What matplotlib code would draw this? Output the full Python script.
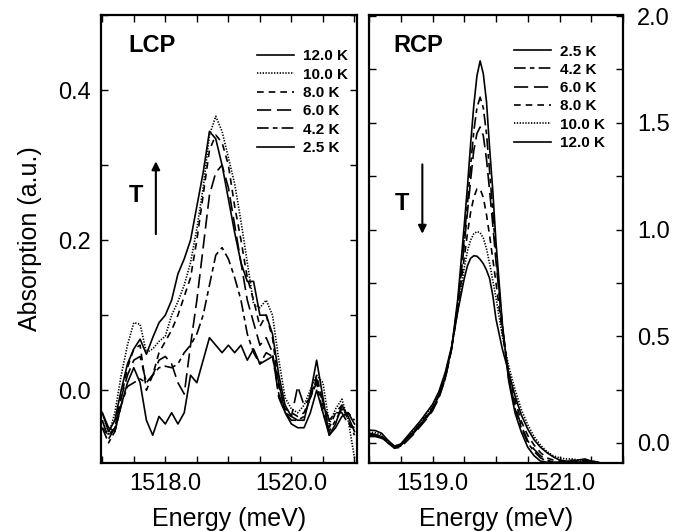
import matplotlib
matplotlib.use("Agg")
import matplotlib.pyplot as plt
from matplotlib.ticker import FixedLocator, MultipleLocator, FormatStrFormatter

plt.rcParams['font.family'] = ['Liberation Sans', 'DejaVu Sans']

# ---------------- data ----------------
temps_lcp = ["12.0 K", "10.0 K", "8.0 K", "6.0 K", "4.2 K", "2.5 K"]
temps_rcp = ["2.5 K", "4.2 K", "6.0 K", "8.0 K", "10.0 K", "12.0 K"]

E_lcp = [1517.0, 1517.1, 1517.2, 1517.3, 1517.4, 1517.5, 1517.6, 1517.7, 1517.8, 1517.9,
         1518.0, 1518.1, 1518.2, 1518.3, 1518.4, 1518.5, 1518.6, 1518.7, 1518.8, 1518.9,
         1519.0, 1519.1, 1519.2, 1519.3, 1519.4, 1519.5, 1519.6, 1519.7, 1519.8, 1519.9,
         1520.0, 1520.1, 1520.2, 1520.3, 1520.4, 1520.5, 1520.6, 1520.7, 1520.8, 1520.9,
         1521.0]

lcp_12K = [-0.03, -0.055, -0.04, 0.00, 0.035, 0.055, 0.068, 0.048, 0.07, 0.09,
           0.10, 0.12, 0.155, 0.175, 0.20, 0.245, 0.29, 0.345, 0.335, 0.30,
           0.255, 0.21, 0.17, 0.145, 0.145, 0.10, 0.10, 0.075, 0.02, -0.02,
           -0.035, -0.04, -0.04, -0.005, 0.04, -0.01, -0.06, -0.045, -0.02, -0.035,
           -0.055]
lcp_10K = [-0.04, -0.06, -0.03, 0.02, 0.06, 0.09, 0.088, 0.05, 0.055, 0.065,
           0.072, 0.10, 0.118, 0.14, 0.17, 0.215, 0.27, 0.34, 0.365, 0.345,
           0.31, 0.275, 0.225, 0.17, 0.115, 0.11, 0.12, 0.10, 0.04, -0.01,
           -0.025, -0.03, -0.02, 0.00, 0.02, 0.01, -0.045, -0.025, -0.012, -0.04,
           -0.09]
lcp_8K = [-0.05, -0.06, -0.05, -0.01, 0.03, 0.055, 0.06, 0.00, 0.02, 0.05,
          0.065, 0.08, 0.10, 0.125, 0.15, 0.20, 0.26, 0.32, 0.34, 0.33,
          0.30, 0.245, 0.20, 0.15, 0.12, 0.085, 0.10, 0.07, 0.005, -0.025,
          -0.03, -0.035, -0.03, -0.01, 0.02, -0.02, -0.05, -0.03, -0.02, -0.04,
          -0.06]
lcp_6K = [-0.04, -0.065, -0.05, -0.01, 0.02, 0.04, 0.045, 0.01, 0.02, 0.04,
          0.045, 0.035, 0.01, -0.005, 0.06, 0.12, 0.19, 0.26, 0.29, 0.30,
          0.27, 0.22, 0.17, 0.12, 0.09, 0.06, 0.07, 0.05, -0.01, -0.03,
          -0.035, 0.005, -0.02, -0.01, 0.015, -0.015, -0.04, -0.03, -0.03, -0.045,
          -0.05]
lcp_4_2K = [-0.05, -0.07, -0.055, -0.02, 0.005, 0.01, 0.015, 0.01, 0.02, 0.03,
            0.032, 0.03, 0.035, 0.05, 0.06, 0.075, 0.10, 0.14, 0.18, 0.19,
            0.175, 0.15, 0.12, 0.075, 0.05, 0.035, 0.05, 0.045, -0.005, -0.03,
            -0.04, -0.04, -0.035, -0.01, 0.01, -0.03, -0.055, -0.04, -0.025, -0.03,
            -0.04]
lcp_2_5K = [-0.03, -0.05, -0.055, -0.02, 0.01, 0.03, 0.01, -0.04, -0.06, -0.035,
            -0.045, -0.03, -0.045, -0.03, 0.02, 0.01, 0.04, 0.07, 0.06, 0.05,
            0.06, 0.05, 0.06, 0.04, 0.055, 0.035, 0.04, 0.045, 0.01, -0.03,
            -0.045, -0.05, -0.05, -0.03, 0.0, -0.03, -0.06, -0.05, -0.035, -0.03,
            -0.045]

E_rcp = [1518.0, 1518.1, 1518.2, 1518.3, 1518.4, 1518.5, 1518.6, 1518.7, 1518.8, 1518.9,
         1519.0, 1519.1, 1519.2, 1519.3, 1519.4, 1519.5, 1519.55, 1519.6, 1519.65, 1519.7,
         1519.75, 1519.8, 1519.85, 1519.9, 1519.95, 1520.0, 1520.1, 1520.2, 1520.3, 1520.4,
         1520.5, 1520.6, 1520.7, 1520.8, 1520.9, 1521.0, 1521.1, 1521.2, 1521.3, 1521.4,
         1521.5, 1521.6, 1521.7, 1521.8, 1521.9, 1522.0]

rcp_2_5K = [0.035, 0.035, 0.025, 0.0, -0.02, -0.01, 0.02, 0.05, 0.085, 0.12,
            0.16, 0.22, 0.31, 0.44, 0.68, 1.02, 1.20, 1.40, 1.58, 1.72,
            1.79, 1.73, 1.60, 1.38, 1.18, 0.94, 0.56, 0.29, 0.14, 0.05,
            -0.02, -0.06, -0.085, -0.09, -0.095, -0.1, -0.1, -0.1, -0.1, -0.095,
            -0.1, -0.11, -0.12, -0.12, -0.12, -0.12]
rcp_4_2K = [0.045, 0.04, 0.03, 0.005, -0.02, -0.015, 0.015, 0.045, 0.08, 0.115,
            0.155, 0.215, 0.30, 0.44, 0.66, 0.96, 1.12, 1.30, 1.46, 1.57,
            1.62, 1.57, 1.45, 1.27, 1.08, 0.88, 0.55, 0.30, 0.16, 0.07,
            0.0, -0.04, -0.07, -0.085, -0.09, -0.095, -0.095, -0.09, -0.095, -0.085,
            -0.095, -0.1, -0.11, -0.11, -0.11, -0.11]
rcp_6K = [0.03, 0.03, 0.022, 0.0, -0.025, -0.02, 0.01, 0.04, 0.075, 0.11,
          0.15, 0.21, 0.30, 0.44, 0.65, 0.93, 1.08, 1.23, 1.37, 1.45,
          1.48, 1.44, 1.33, 1.18, 1.02, 0.85, 0.54, 0.31, 0.17, 0.08,
          0.01, -0.03, -0.06, -0.08, -0.09, -0.09, -0.09, -0.085, -0.09, -0.085,
          -0.09, -0.1, -0.1, -0.1, -0.1, -0.1]
rcp_8K = [0.04, 0.038, 0.03, 0.005, -0.02, -0.012, 0.02, 0.05, 0.09, 0.125,
          0.165, 0.225, 0.31, 0.44, 0.63, 0.87, 0.98, 1.08, 1.15, 1.19,
          1.19, 1.15, 1.07, 0.97, 0.86, 0.75, 0.52, 0.33, 0.20, 0.10,
          0.035, -0.01, -0.045, -0.07, -0.08, -0.085, -0.085, -0.08, -0.085, -0.08,
          -0.085, -0.09, -0.1, -0.1, -0.1, -0.1]
rcp_10K = [0.05, 0.048, 0.038, 0.01, -0.015, -0.008, 0.025, 0.06, 0.095, 0.135,
           0.175, 0.235, 0.32, 0.45, 0.62, 0.82, 0.90, 0.95, 0.98, 0.99,
           0.985, 0.96, 0.91, 0.84, 0.76, 0.68, 0.50, 0.36, 0.25, 0.155,
           0.085, 0.03, -0.01, -0.04, -0.06, -0.07, -0.075, -0.075, -0.08, -0.08,
           -0.085, -0.09, -0.1, -0.1, -0.1, -0.1]
rcp_12K = [0.06, 0.058, 0.045, 0.012, -0.015, -0.005, 0.03, 0.065, 0.10, 0.14,
           0.18, 0.24, 0.33, 0.45, 0.62, 0.77, 0.83, 0.865, 0.877, 0.875,
           0.86, 0.84, 0.81, 0.77, 0.69, 0.58, 0.44, 0.33, 0.22, 0.13,
           0.065, 0.015, -0.02, -0.045, -0.065, -0.08, -0.085, -0.085, -0.08, -0.075,
           -0.085, -0.09, -0.1, -0.1, -0.1, -0.1]

lcp_series = {"12.0 K": lcp_12K, "10.0 K": lcp_10K, "8.0 K": lcp_8K,
              "6.0 K": lcp_6K, "4.2 K": lcp_4_2K, "2.5 K": lcp_2_5K}
rcp_series = {"2.5 K": rcp_2_5K, "4.2 K": rcp_4_2K, "6.0 K": rcp_6K,
              "8.0 K": rcp_8K, "10.0 K": rcp_10K, "12.0 K": rcp_12K}

styles = {
    "12.0 K": '-',
    "10.0 K": (0, (0.8, 0.9)),
    "8.0 K": (0, (4.0, 3.0)),
    "6.0 K": (0, (8.5, 3.5)),
    "4.2 K": (0, (7.0, 2.5, 2.8, 2.5)),
    "2.5 K": '-',
}

# ---------------- figure ----------------
fig = plt.figure(figsize=(6.75, 5.31), dpi=100)
ax1 = fig.add_axes([101/675, 1-463/531, 256/675, 448/531])
ax2 = fig.add_axes([369/675, 1-463/531, 254/675, 448/531])

LW = 1.2
for t in temps_lcp:
    ax1.plot(E_lcp, lcp_series[t], color='black', lw=LW, linestyle=styles[t], label=t)
for t in temps_rcp:
    ax2.plot(E_rcp, rcp_series[t], color='black', lw=LW, linestyle=styles[t], label=t)

ax1.set_xlim(1516.98, 1521.04)
ax1.set_ylim(-0.097, 0.5)
ax2.set_xlim(1518.0, 1522.0)
ax2.set_ylim(-0.094, 2.005)

FS = 17
for ax in (ax1, ax2):
    for s in ax.spines.values():
        s.set_linewidth(1.6)
    ax.tick_params(which='both', direction='in', top=True, right=True, left=True,
                   bottom=True, length=5, width=1.0, labelsize=FS, pad=7)
    ax.set_xlabel("Energy (meV)", fontsize=FS + 1, labelpad=9)

ax1.xaxis.set_major_locator(FixedLocator([1518.0, 1520.0]))
ax1.xaxis.set_minor_locator(MultipleLocator(0.5))
ax1.xaxis.set_major_formatter(FormatStrFormatter('%.1f'))
ax1.yaxis.set_major_locator(FixedLocator([0.0, 0.2, 0.4]))
ax1.yaxis.set_minor_locator(MultipleLocator(0.1))
ax1.yaxis.set_major_formatter(FormatStrFormatter('%.1f'))
ax1.set_ylabel("Absorption (a.u.)", fontsize=FS + 1, labelpad=12)

ax2.xaxis.set_major_locator(FixedLocator([1519.0, 1521.0]))
ax2.xaxis.set_minor_locator(MultipleLocator(0.5))
ax2.xaxis.set_major_formatter(FormatStrFormatter('%.1f'))
ax2.yaxis.set_major_locator(FixedLocator([0.0, 0.5, 1.0, 1.5, 2.0]))
ax2.yaxis.set_minor_locator(MultipleLocator(0.25))
ax2.yaxis.set_major_formatter(FormatStrFormatter('%.1f'))
ax2.tick_params(axis='y', labelleft=False, labelright=True, pad=10)

# legends
leg_kw = dict(frameon=False, loc='upper left', borderpad=0, borderaxespad=0,
              handlelength=2.4, handletextpad=0.6, labelspacing=0.28,
              prop={'weight': 'bold', 'size': 11})
ax1.legend(bbox_to_anchor=(0.609, 0.923), **leg_kw)
ax2.legend(bbox_to_anchor=(0.571, 0.934), **leg_kw)

# panel labels
ax1.text(0.105, 0.931, "LCP", transform=ax1.transAxes, fontsize=17, fontweight='bold',
         ha='left', va='center')
ax2.text(0.094, 0.931, "RCP", transform=ax2.transAxes, fontsize=17, fontweight='bold',
         ha='left', va='center')

# T arrows
ax1.text(1517.53, 0.26, "T", fontsize=17, fontweight='bold', ha='center', va='center')
ax1.annotate("", xy=(1517.85, 0.305), xytext=(1517.85, 0.208),
             arrowprops=dict(arrowstyle='-|>', color='black', lw=1.5,
                             mutation_scale=12, shrinkA=0, shrinkB=0))
ax2.text(1518.52, 1.12, "T", fontsize=17, fontweight='bold', ha='center', va='center')
ax2.annotate("", xy=(1518.84, 0.98), xytext=(1518.84, 1.305),
             arrowprops=dict(arrowstyle='-|>', color='black', lw=1.5,
                             mutation_scale=12, shrinkA=0, shrinkB=0))

fig.savefig("out.png", dpi=100)
